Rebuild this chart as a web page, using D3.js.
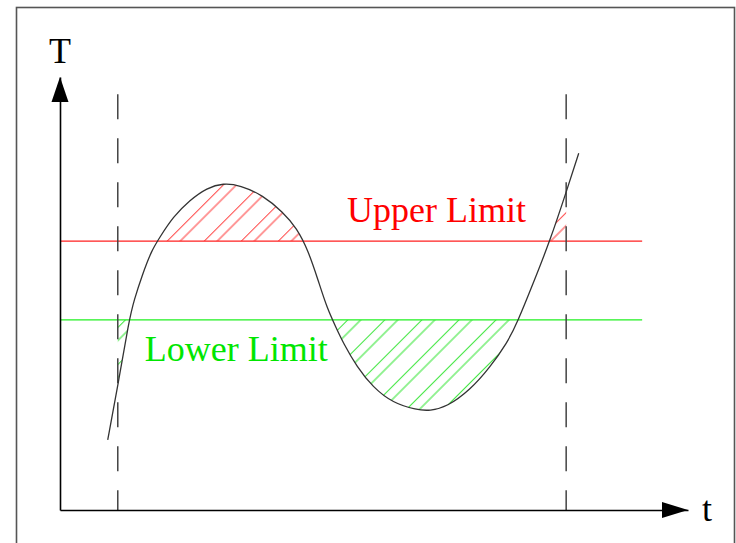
<!DOCTYPE html>
<html>
<head>
<meta charset="utf-8">
<script src="https://cdn.jsdelivr.net/npm/d3@7/dist/d3.min.js"></script>
<style>
  html, body { margin: 0; padding: 0; background: #fff; }
  svg { display: block; }
  text { font-family: "Liberation Serif", "Times New Roman", serif; }
</style>
</head>
<body>
<svg id="chart" width="736" height="543"></svg>
<script>
// ---- data (t, T in arbitrary units) ----
const curveT = [0.76, 0.92, 1.10, 1.18, 1.31, 1.46, 1.59, 1.80, 2.07, 2.34, 2.60, 2.87, 3.23, 3.55, 3.77, 3.95, 4.11, 4.25, 4.40, 4.51, 4.73, 4.98, 5.30, 5.68, 5.89, 6.16, 6.53, 6.85, 7.12, 7.28, 7.55, 7.80, 8.06, 8.26];
const curveV = [1.62, 2.86, 4.39, 4.85, 5.43, 6.00, 6.30, 6.77, 7.16, 7.44, 7.55, 7.50, 7.27, 6.88, 6.51, 6.00, 5.31, 4.67, 4.20, 3.86, 3.30, 2.84, 2.47, 2.31, 2.29, 2.38, 2.77, 3.30, 3.86, 4.32, 5.29, 6.21, 7.34, 8.24];
const upperLimit = 6.21;
const lowerLimit = 4.39;
const limitEnd = 9.27;          // t where limit lines stop
const windowT = [0.92, 8.06];   // dashed time window
const windowTop = 9.6;
const labels = { upper: "Upper Limit", lower: "Lower Limit", yAxis: "T", xAxis: "t" };
const labelPos = { upper: [4.57, 6.65], lower: [1.35, 3.45] };

// ---- scales ----
const x = d3.scaleLinear().domain([0, 10]).range([60, 688]);
const y = d3.scaleLinear().domain([0, 10]).range([510, 77]);

const svg = d3.select("#chart");
const defs = svg.append("defs");

// frame
svg.append("rect")
  .attr("x", 16.5).attr("y", 7.5).attr("width", 718).attr("height", 600)
  .attr("fill", "none").attr("stroke", "#555").attr("stroke-width", 1.6);

// hatch patterns
function hatch(id, color) {
  const p = defs.append("pattern")
    .attr("id", id).attr("patternUnits", "userSpaceOnUse")
    .attr("width", 26.2).attr("height", 10)
    .attr("patternTransform", "rotate(45)");
  [0, 9.2].forEach(px => {
    p.append("line").attr("x1", px + 0.5).attr("x2", px + 0.5)
      .attr("y1", -1).attr("y2", 11)
      .attr("stroke", color).attr("stroke-width", 1.1);
  });
}
hatch("hatchRed", "#ff4a4a");
hatch("hatchGreen", "#3ee63e");

const pts = curveT.map((t, i) => [t, curveV[i]]);
const line = d3.line().x(d => x(d[0])).y(d => y(d[1])).curve(d3.curveBasis);
const curvePath = line(pts);
const tFirst = curveT[0], tLast = curveT[curveT.length - 1];

// clip: region below curve (T < curve)
defs.append("clipPath").attr("id", "belowCurve").append("path")
  .attr("d", curvePath + `L${x(tLast)},${y(-1)}L${x(tFirst)},${y(-1)}Z`);
// clip: region above curve (T > curve)
defs.append("clipPath").attr("id", "aboveCurve").append("path")
  .attr("d", curvePath + `L${x(tLast)},${y(12)}L${x(tFirst)},${y(12)}Z`);

// red hatched: upper < T < curve within window
svg.append("rect")
  .attr("x", x(windowT[0])).attr("width", x(windowT[1]) - x(windowT[0]))
  .attr("y", y(10)).attr("height", y(upperLimit) - y(10))
  .attr("fill", "url(#hatchRed)").attr("clip-path", "url(#belowCurve)");
// green hatched: curve < T < lower within window
svg.append("rect")
  .attr("x", x(windowT[0])).attr("width", x(windowT[1]) - x(windowT[0]))
  .attr("y", y(lowerLimit)).attr("height", y(0) - y(lowerLimit))
  .attr("fill", "url(#hatchGreen)").attr("clip-path", "url(#aboveCurve)");

// limit lines
svg.append("line").attr("x1", x(0)).attr("x2", x(limitEnd))
  .attr("y1", y(upperLimit)).attr("y2", y(upperLimit))
  .attr("stroke", "#ff2020").attr("stroke-width", 1.2);
svg.append("line").attr("x1", x(0)).attr("x2", x(limitEnd))
  .attr("y1", y(lowerLimit)).attr("y2", y(lowerLimit))
  .attr("stroke", "#20f020").attr("stroke-width", 1.2);

// dashed window lines
windowT.forEach(t => {
  svg.append("line").attr("x1", x(t)).attr("x2", x(t))
    .attr("y1", y(windowTop)).attr("y2", y(0))
    .attr("stroke", "#444").attr("stroke-width", 1.5)
    .attr("stroke-dasharray", "25,19");
});

// curve
svg.append("path").attr("d", curvePath)
  .attr("fill", "none").attr("stroke", "#333").attr("stroke-width", 1.3);

// axes (no ticks), with arrowheads
const xAxis = d3.axisBottom(x).tickValues([]).tickSizeOuter(0);
const yAxis = d3.axisLeft(y).tickValues([]).tickSizeOuter(0);
svg.append("g").attr("transform", `translate(0,${y(0)})`).call(xAxis)
  .select(".domain").attr("stroke", "#000").attr("stroke-width", 1.6);
svg.append("g").attr("transform", `translate(${x(0)},0)`).call(yAxis)
  .select(".domain").attr("stroke", "#000").attr("stroke-width", 1.6);

// arrowheads
const ax = x(10), ay = y(0);
svg.append("path").attr("d", `M${ax},${ay}L${ax - 26},${ay - 8}L${ax - 26},${ay + 8}Z`).attr("fill", "#000");
const bx = x(0), by = y(10);
svg.append("path").attr("d", `M${bx},${by}L${bx - 8.5},${by + 25}L${bx + 8.5},${by + 25}Z`).attr("fill", "#000");

// axis labels
svg.append("text").attr("x", bx).attr("y", by - 14).attr("text-anchor", "middle")
  .attr("font-size", 36).attr("fill", "#000").text(labels.yAxis);
svg.append("text").attr("x", ax + 14).attr("y", ay + 11)
  .attr("font-size", 36).attr("fill", "#000").text(labels.xAxis);

// limit labels
svg.append("text").attr("x", x(labelPos.upper[0])).attr("y", y(labelPos.upper[1]))
  .attr("font-size", 36).attr("fill", "#ff0000").text(labels.upper);
svg.append("text").attr("x", x(labelPos.lower[0])).attr("y", y(labelPos.lower[1]))
  .attr("font-size", 36).attr("fill", "#00e600").text(labels.lower);
</script>
</body>
</html>
